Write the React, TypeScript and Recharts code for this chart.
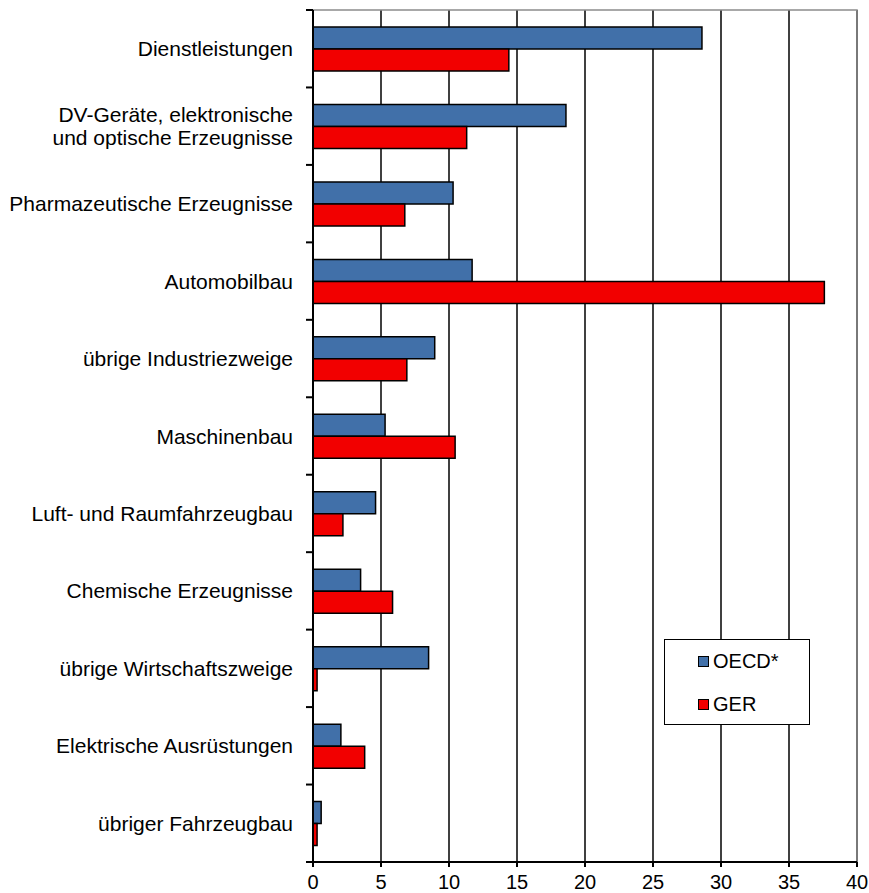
import React from "react";
import {
  BarChart,
  Bar,
  XAxis,
  YAxis,
  CartesianGrid,
  ReferenceArea,
} from "recharts";

const categories = [
  "Dienstleistungen",
  "DV-Geräte, elektronische\nund optische Erzeugnisse",
  "Pharmazeutische Erzeugnisse",
  "Automobilbau",
  "übrige Industriezweige",
  "Maschinenbau",
  "Luft- und Raumfahrzeugbau",
  "Chemische Erzeugnisse",
  "übrige Wirtschaftszweige",
  "Elektrische Ausrüstungen",
  "übriger Fahrzeugbau",
];
const oecdValues = [28.6, 18.6, 10.3, 11.7, 8.95, 5.3, 4.6, 3.5, 8.5, 2.05, 0.6];
const gerValues = [14.4, 11.3, 6.75, 37.6, 6.9, 10.45, 2.2, 5.85, 0.3, 3.8, 0.3];
const xTicks = [0, 5, 10, 15, 20, 25, 30, 35, 40];
const seriesNames = ["OECD*", "GER"];
const seriesColors = ["#4170A9", "#F20000"];

const data = categories.map((c, i) => ({
  name: c,
  oecd: oecdValues[i],
  ger: gerValues[i],
}));

const FONT = "'Liberation Sans', Arial, sans-serif";
const WIDTH = 869;
const HEIGHT = 893;
const Y_AXIS_WIDTH = 313;
const MARGIN = { top: 10, right: 12, bottom: 0, left: 0 };
const X_AXIS_HEIGHT = 31;
const PLOT_H = HEIGHT - MARGIN.top - MARGIN.bottom - X_AXIS_HEIGHT;
const LABEL_SIZE = 21;

const CategoryTick = (props: any) => {
  const { y, payload, index } = props;
  const axisX = MARGIN.left + Y_AXIS_WIDTH;
  const half =
    payload && typeof payload.offset === "number" && payload.offset > 0
      ? payload.offset
      : PLOT_H / categories.length / 2;
  const lines = String(payload.value).split("\n");
  const lh = 23;
  const startY = y - ((lines.length - 1) * lh) / 2;
  return (
    <g>
      <line x1={axisX - 7} x2={axisX} y1={y - half} y2={y - half} stroke="#000" strokeWidth={2} />
      {index === categories.length - 1 && (
        <line x1={axisX - 7} x2={axisX} y1={y + half} y2={y + half} stroke="#000" strokeWidth={2} />
      )}
      <text
        x={axisX - 20}
        y={startY}
        textAnchor="end"
        fontFamily={FONT}
        fontSize={LABEL_SIZE}
        fill="#000"
      >
        {lines.map((l, i) => (
          <tspan key={i} x={axisX - 20} y={startY + i * lh} dominantBaseline="central">
            {l}
          </tspan>
        ))}
      </text>
    </g>
  );
};

const LegendBox = () => (
  <div
    style={{
      position: "absolute",
      left: 664,
      top: 639,
      width: 146,
      height: 86,
      boxSizing: "border-box",
      border: "1.5px solid #000",
      background: "#fff",
      fontFamily: FONT,
      fontSize: 20,
      color: "#000",
    }}
  >
    {seriesNames.map((n, i) => (
      <div
        key={n}
        style={{
          position: "absolute",
          left: 33,
          top: 10 + i * 43,
          height: 22,
          display: "flex",
          alignItems: "center",
          whiteSpace: "nowrap",
        }}
      >
        <span
          style={{
            display: "inline-block",
            width: 9,
            height: 9,
            background: seriesColors[i],
            border: "1px solid #000",
            marginRight: 4,
          }}
        />
        <span>{n}</span>
      </div>
    ))}
  </div>
);

export default function App() {
  return (
    <div style={{ position: "absolute", left: 0, top: 0, width: WIDTH, height: HEIGHT, background: "#fff" }}>
      <BarChart
        width={WIDTH}
        height={HEIGHT}
        data={data}
        layout="vertical"
        margin={MARGIN}
        barCategoryGap="22%"
        barGap={0}
      >
        <CartesianGrid horizontal={false} vertical stroke="#000" strokeWidth={1.5} />
        <ReferenceArea x1={0} x2={40} fill="none" stroke="#8c8c8c" strokeWidth={1.5} />
        <XAxis
          type="number"
          domain={[0, 40]}
          ticks={xTicks}
          interval={0}
          height={X_AXIS_HEIGHT}
          tickSize={5}
          tickMargin={8}
          axisLine={{ stroke: "#000", strokeWidth: 2 }}
          tickLine={{ stroke: "#000", strokeWidth: 2 }}
          tick={{ fill: "#000", fontSize: 20, fontFamily: FONT }}
        />
        <YAxis
          type="category"
          dataKey="name"
          width={Y_AXIS_WIDTH}
          interval={0}
          tickLine={false}
          axisLine={{ stroke: "#000", strokeWidth: 2 }}
          tick={<CategoryTick />}
        />
        <Bar dataKey="oecd" name={seriesNames[0]} fill={seriesColors[0]} stroke="#000" strokeWidth={1.5} isAnimationActive={false} />
        <Bar dataKey="ger" name={seriesNames[1]} fill={seriesColors[1]} stroke="#000" strokeWidth={1.5} isAnimationActive={false} />
      </BarChart>
      <LegendBox />
    </div>
  );
}
